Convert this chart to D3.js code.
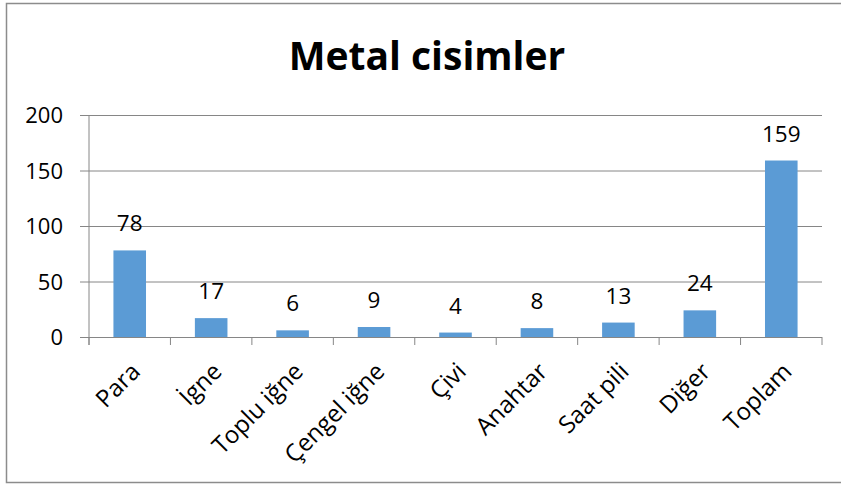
<!DOCTYPE html>
<html>
<head>
<meta charset="utf-8">
<script src="https://cdn.jsdelivr.net/npm/d3@7"></script>
<style>
  body { margin: 0; background: #fff; }
  text { font-family: "Open Sans", sans-serif; fill: #000; }
</style>
</head>
<body>
<div id="chart"></div>
<script>
var categories = ["Para", "İgne", "Toplu iğne", "Çengel iğne", "Çivi", "Anahtar", "Saat pili", "Diğer", "Toplam"];
var values = [78, 17, 6, 9, 4, 8, 13, 24, 159];
var yTicks = [0, 50, 100, 150, 200];

var W = 841, H = 484;
var margin = {top: 115, right: 19, bottom: 147, left: 89};
var width = W - margin.left - margin.right;
var height = H - margin.top - margin.bottom;

var svg = d3.select("#chart").append("svg")
    .attr("width", W)
    .attr("height", H);

// outer frame
svg.append("rect")
    .attr("x", 6.5).attr("y", 3.5)
    .attr("width", 840).attr("height", 479)
    .attr("fill", "none")
    .attr("stroke", "#8c8c8c")
    .attr("stroke-width", 1.5);

svg.append("text")
    .attr("x", 427).attr("y", 70)
    .attr("text-anchor", "middle")
    .style("font-size", "39px")
    .style("font-weight", "bold")
    .text("Metal cisimler");

var g = svg.append("g")
    .attr("transform", "translate(" + margin.left + "," + margin.top + ")");

var x = d3.scaleBand()
    .domain(categories)
    .range([0, width])
    .paddingInner(0.6)
    .paddingOuter(0.3);

var y = d3.scaleLinear()
    .domain([0, 200])
    .range([height, 0]);

// gridlines + y axis
var yAxis = d3.axisLeft(y)
    .tickValues(yTicks)
    .tickSize(-width)
    .tickPadding(26);

g.append("g")
    .attr("class", "y axis")
    .call(yAxis)
    .call(function(a) {
        a.select(".domain").remove();
        a.selectAll(".tick line")
            .attr("x1", -9)
            .attr("stroke", "#868686");
        a.selectAll(".tick text")
            .style("font-size", "22px")
            .attr("dy", "0.36em");
    });

g.append("line")
    .attr("x1", 0).attr("x2", 0)
    .attr("y1", 0).attr("y2", height + 8)
    .attr("stroke", "#868686");

// x tick marks at band edges
var edges = categories.map(function(c) { return x(c) - x.step() * x.paddingInner() / 2; });
edges.push(width);
g.selectAll(".xtick")
    .data(edges)
    .enter().append("line")
    .attr("class", "xtick")
    .attr("x1", function(d) { return d; })
    .attr("x2", function(d) { return d; })
    .attr("y1", height)
    .attr("y2", height + 8)
    .attr("stroke", "#868686");

var data = categories.map(function(c, i) { return {name: c, value: values[i]}; });

g.selectAll(".bar")
    .data(data)
    .enter().append("rect")
    .attr("class", "bar")
    .attr("x", function(d) { return x(d.name); })
    .attr("y", function(d) { return y(d.value); })
    .attr("width", x.bandwidth())
    .attr("height", function(d) { return height - y(d.value); })
    .attr("fill", "#5b9bd5");

g.selectAll(".val")
    .data(data)
    .enter().append("text")
    .attr("class", "val")
    .attr("x", function(d) { return x(d.name) + x.bandwidth() / 2; })
    .attr("y", function(d) { return y(d.value) - 19; })
    .attr("text-anchor", "middle")
    .style("font-size", "22.5px")
    .text(function(d) { return d.value; });

g.selectAll(".cat")
    .data(data)
    .enter().append("text")
    .attr("class", "cat")
    .attr("text-anchor", "end")
    .attr("transform", function(d) {
        var cx = x(d.name) + x.bandwidth() / 2 + 12;
        return "translate(" + cx + "," + (height + 36) + ") rotate(-45)";
    })
    .style("font-size", "24px")
    .text(function(d) { return d.name; });
</script>
</body>
</html>
